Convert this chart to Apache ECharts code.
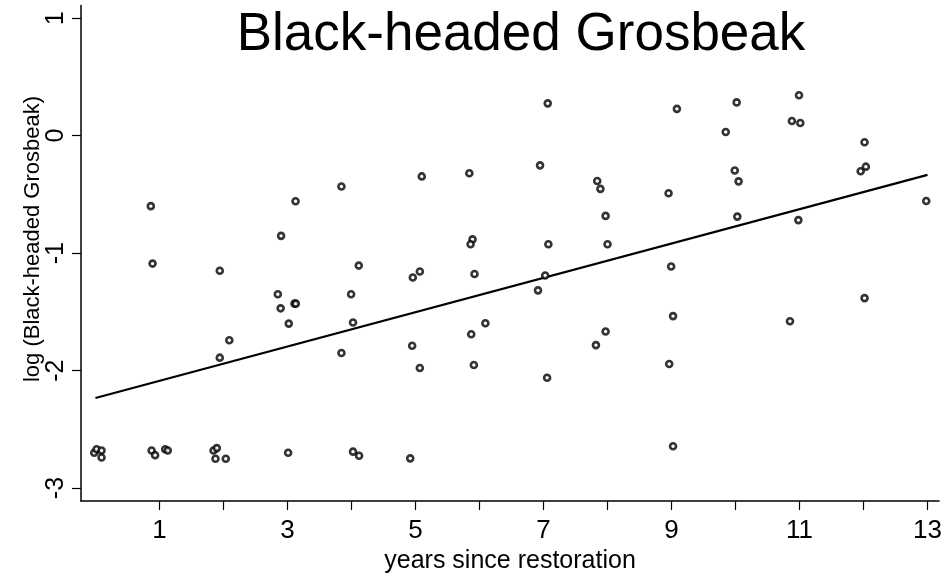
<!DOCTYPE html>
<html><head><meta charset="utf-8">
<script src="https://cdn.jsdelivr.net/npm/echarts@6/dist/echarts.min.js"></script>
<style>html,body{margin:0;padding:0;background:#fff}#c{width:945px;height:579px}</style>
</head><body><div id="c"></div>
<script>
const titleText = 'Black-headed Grosbeak';
const xTitle = 'years since restoration';
const yTitle = 'log (Black-headed Grosbeak)';
const xTickValues = [1,2,3,4,5,6,7,8,9,10,11,12,13];
const xLabelValues = [1,3,5,7,9,11,13];
const yTickValues = [-3,-2,-1,0,1];
// jittered years since restoration
const years = [0.865,0.892,3.843,3.126,2.900,1.942,4.114,2.849,3.994,2.893,3.110,3.130,3.020,4.024,2.091,1.942,3.843,
  -0.019,0.018,0.095,0.095,0.877,0.932,1.089,1.130,1.845,1.896,1.875,2.036,3.010,4.024,4.119,
  5.098,5.841,6.946,7.839,7.889,8.954,7.970,5.891,5.861,7.076,8.000,4.958,5.068,5.922,7.026,6.914,8.994,6.092,5.871,4.948,5.068,5.912,7.056,7.970,7.819,9.024,8.964,9.024,4.918,
  9.084,10.018,10.992,10.881,11.012,9.847,12.016,9.988,10.048,11.955,12.036,10.028,10.982,12.980,10.851,12.016,7.066];
const logAbundance = [-0.60,-1.089,-0.433,-0.558,-0.853,-1.15,-1.106,-1.35,-1.35,-1.47,-1.43,-1.43,-1.60,-1.59,-1.742,-1.89,-1.85,
  -2.70,-2.67,-2.68,-2.74,-2.68,-2.72,-2.67,-2.68,-2.68,-2.66,-2.75,-2.75,-2.70,-2.69,-2.725,
  -0.347,-0.32,-0.253,-0.386,-0.453,-0.49,-0.683,-0.883,-0.925,-0.925,-0.925,-1.208,-1.156,-1.178,-1.19,-1.317,-1.114,-1.597,-1.69,-1.789,-1.978,-1.953,-2.061,-1.667,-1.783,-1.536,-1.944,-2.644,-2.747,
  0.228,0.283,0.344,0.125,0.108,0.031,-0.056,-0.297,-0.389,-0.303,-0.264,-0.689,-0.719,-0.556,-1.58,-1.383,0.275];
const fitX = [0, 13];
const fitY = [-2.233, -0.334];

const font = "'Liberation Sans', Arial, Helvetica, sans-serif";
const chart = echarts.init(document.getElementById('c'), null, {renderer:'canvas'});
chart.setOption({
  animation:false,
  backgroundColor:'#fff',
  graphic:[
    {type:'text', x:521, y:35, style:{text:titleText, fill:'#000', font:'53px '+font, textAlign:'center', textVerticalAlign:'middle'}},
    {type:'text', rotation:Math.PI/2, x:33, y:239, style:{text:yTitle, fill:'#000', font:'22px '+font, textAlign:'center', textVerticalAlign:'middle'}}
  ],
  grid:{left:81, right:0, top:5.5, bottom:69, containLabel:false},
  xAxis:{type:'value', min:-0.226, max:13.18,
    name:xTitle, nameLocation:'middle', nameGap:45,
    nameTextStyle:{fontSize:25, color:'#000', fontFamily:font},
    axisLine:{show:true, onZero:false, lineStyle:{color:'#000', width:1.5}},
    axisTick:{show:true, length:9, lineStyle:{color:'#000', width:1.2}, customValues:xTickValues},
    axisLabel:{color:'#000', fontSize:26, fontFamily:font, margin:17, customValues:xLabelValues},
    splitLine:{show:false}},
  yAxis:{type:'value', min:-3.111, max:1.108,
    axisLine:{show:true, onZero:false, lineStyle:{color:'#000', width:1.5}},
    axisTick:{show:true, length:9, lineStyle:{color:'#000', width:1.2}, customValues:yTickValues},
    axisLabel:{color:'#000', fontSize:25, fontFamily:font, rotate:90, margin:12, customValues:yTickValues},
    splitLine:{show:false}},
  series:[
    {type:'scatter', data:years.map((x,i)=>[x, logAbundance[i]]), symbol:'circle', symbolSize:6,
     itemStyle:{color:'#fff', borderColor:'#000', borderWidth:2.6}, z:3},
    {type:'line', data:fitX.map((x,i)=>[x, fitY[i]]), symbol:'none', lineStyle:{color:'#000', width:2.2}, z:2}
  ]
});
</script></body></html>
